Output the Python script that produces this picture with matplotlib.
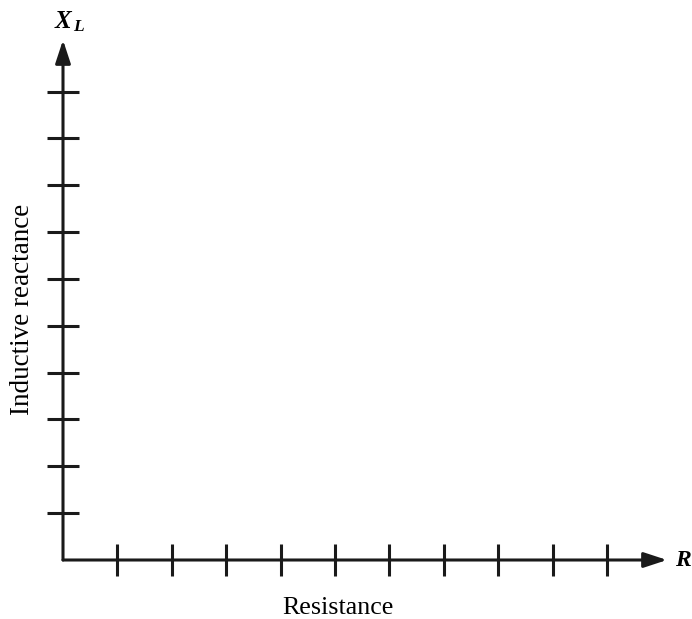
import numpy as np
import matplotlib
matplotlib.use("Agg")
import matplotlib.pyplot as plt

# axis data: tick positions and labels
r_ticks = np.arange(1, 11)
xl_ticks = np.arange(1, 11)
x_label = "Resistance"
y_label = "Inductive reactance"
x_end = 11.1
y_end = 11.1

plt.rcParams["font.family"] = ["Liberation Serif", "DejaVu Serif"]
plt.rcParams["mathtext.fontset"] = "custom"
plt.rcParams["mathtext.it"] = "Liberation Serif:italic:bold"
plt.rcParams["mathtext.rm"] = "Liberation Serif"

W, H = 692, 619
fig = plt.figure(figsize=(W / 100, H / 100), dpi=100)
ax = fig.add_axes([63 / W, 59 / H, (667 - 63) / W, (560 - 40) / H])
ax.set_xlim(0, x_end)
ax.set_ylim(0, y_end)
for s in ax.spines.values():
    s.set_visible(False)

ax.set_xticks(r_ticks)
ax.set_yticks(xl_ticks)
ax.tick_params(direction="inout", length=22.5, width=2.2, color="#1a1a1a",
               labelbottom=False, labelleft=False)

arrow = dict(arrowstyle="-|>,head_length=0.7,head_width=0.23", color="#1a1a1a",
             lw=2.2, shrinkA=0, shrinkB=0, mutation_scale=20)
ax.annotate("", xy=(x_end, 0), xytext=(0, 0), arrowprops=arrow, annotation_clip=False)
ax.annotate("", xy=(0, y_end), xytext=(0, 0), arrowprops=arrow, annotation_clip=False)

ax.text(5.06, -1.03, x_label, fontsize=18.7, ha="center", va="center", clip_on=False)
ax.text(-0.74, 5.34, y_label, fontsize=19.5, rotation=90, ha="center", va="center",
        clip_on=False)
ax.text(11.25, 0, "R", fontsize=17, style="italic", weight="bold", ha="left",
        va="center", clip_on=False)
ax.text(0.12, 11.5, r"$X_{\,L}$", fontsize=18, ha="center", va="center", clip_on=False)

fig.savefig("out.png", dpi=100)
